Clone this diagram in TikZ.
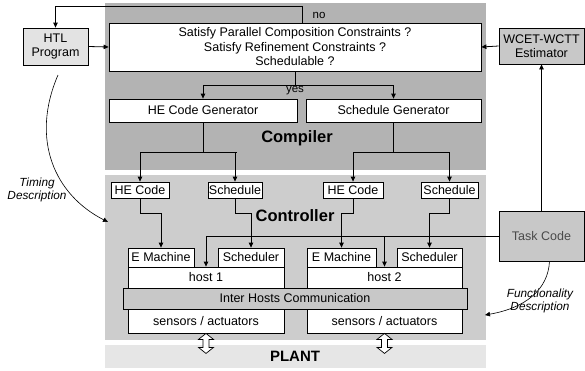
\documentclass[tikz,border=0pt]{standalone}
\usepackage{fontspec}
\setmainfont{Liberation Sans}
\usetikzlibrary{arrows.meta,calc}
\definecolor{compgray}{HTML}{B3B3B3}
\definecolor{ctrlgray}{HTML}{CDCDCD}
\definecolor{plantgray}{HTML}{E6E6E6}
\definecolor{boxgray}{HTML}{C8C8C8}
\definecolor{htlgray}{HTML}{E3E3E3}
\definecolor{taskgray}{HTML}{4A4A4A}
\begin{document}
\begin{tikzpicture}[x=1pt,y=-1pt,
  box/.style={draw=black, line width=0.8pt, fill=white, inner sep=0pt,
    align=center, font=\fontsize{12.5}{14.5}\selectfont},
  graybox/.style={box, fill=boxgray},
  arr/.style={-{Triangle[length=5pt,width=4.5pt]}, line width=0.8pt},
  ln/.style={line width=0.8pt},
  title/.style={font=\fontsize{16.5}{18}\selectfont\bfseries},
  note/.style={font=\fontsize{11.8}{13}\selectfont\itshape, align=center},
  small/.style={font=\fontsize{11.5}{12}\selectfont},
  dblarrow/.style={draw=black, line width=0.7pt, fill=white}]
\useasboundingbox (0,0) rectangle (585,370);

% layers
\fill[compgray] (105,3) rectangle (486,170);
\fill[ctrlgray] (105,175) rectangle (486,340);
\fill[plantgray] (105,345) rectangle (486,368);

% compiler
\node[box, fill=htlgray, minimum width=65pt, minimum height=37pt] (HTL) at (55.5,46.5) {HTL\\Program};
\node[box, minimum width=372pt, minimum height=48pt] (C) at (295,47)
  {Satisfy Parallel Composition Constraints ?\\Satisfy Refinement Constraints ?\\Schedulable ?};
\node[graybox, minimum width=85pt, minimum height=36pt] (W) at (541.5,46) {WCET-WCTT\\Estimator};
\node[box, minimum width=188pt, minimum height=23pt] (HEG) at (203,110.5) {HE Code Generator};
\node[box, minimum width=175pt, minimum height=23pt] (SG) at (393.5,110.5) {Schedule Generator};
\node[title] (comp) at (297,138) {Compiler};

% controller
\node[box, minimum width=58pt, minimum height=16pt] (HE1) at (140,190) {HE Code};
\node[box, minimum width=54pt, minimum height=16pt] (S1) at (235,190) {Schedule};
\node[box, minimum width=60pt, minimum height=16pt] (HE2) at (353,190) {HE Code};
\node[box, minimum width=57pt, minimum height=16pt] (S2) at (449.5,190) {Schedule};
\node[title] (ctrl) at (295,216) {Controller};

\node[box, minimum width=156pt, minimum height=21pt] (H1) at (206,277.5) {host 1};
\node[box, minimum width=156pt, minimum height=24pt] (SA1) at (206,321) {sensors / actuators};
\node[box, minimum width=66pt, minimum height=19pt] (EM1) at (161,257.5) {E Machine};
\node[box, minimum width=66pt, minimum height=19pt] (SC1) at (251,257.5) {Scheduler};

\node[box, minimum width=155pt, minimum height=21pt] (H2) at (384.5,277.5) {host 2};
\node[box, minimum width=155pt, minimum height=24pt] (SA2) at (384.5,321) {sensors / actuators};
\node[box, minimum width=69pt, minimum height=19pt] (EM2) at (341.5,257.5) {E Machine};
\node[box, minimum width=65pt, minimum height=19pt] (SC2) at (429.5,257.5) {Scheduler};

\node[graybox, minimum width=344pt, minimum height=21pt] (IHC) at (295,298.5) {Inter Hosts Communication};

\node[graybox, minimum width=85pt, minimum height=50pt, text=taskgray] (T) at (541.5,236) {Task Code};

% plant
\node[font=\fontsize{15}{16}\selectfont\bfseries] (plant) at (295,356) {PLANT};

% compiler connectors
\draw[arr] (HTL.east) -- (C.west);
\draw[arr] (W.west) -- (C.east);
\draw[arr] ($(C.north)+(7,0)$) -- ++(0,-16) -| (HTL.north);
\node[small] (no) at (319,15) {no};
\draw[ln] (C.south) -- ++(0,14) coordinate (yesj);
\draw[ln] (yesj -| HEG.north) -- (yesj -| SG.north);
\draw[arr] (yesj -| HEG.north) -- (HEG.north);
\draw[arr] (yesj -| SG.north) -- (SG.north);
\node[small] (yes) at (295,91) {yes};

\draw[ln] (HEG.south) -- ++(0,30) coordinate (hej);
\draw[ln] (hej -| HE1.north) -- ($(hej -| S1.north)+(2,0)$);
\draw[arr] (hej -| HE1.north) -- (HE1.north);
\draw[arr] (hej -| S1.north) -- (S1.north);
\draw[ln] (SG.south) -- ++(0,30) coordinate (sgj);
\draw[ln] (sgj -| HE2.north) -- (sgj -| S2.north);
\draw[arr] (sgj -| HE2.north) -- (HE2.north);
\draw[arr] (sgj -| S2.north) -- (S2.north);

% controller connectors
\draw[arr] (HE1.south) -- ++(0,15) -| (EM1.north);
\draw[arr] (S1.south) -- ++(0,15) -| (SC1.north);
\draw[arr] (HE2.south) -- ++(0,15) -| (EM2.north);
\draw[arr] (S2.south) -- ++(0,15) -| (SC2.north);
\draw[arr] (T.west) -| (H1.north);
\draw[arr] (H2.north |- T.west) -- (H2.north);
\draw[arr] (T.north) -- (W.south);

% descriptions
\coordinate (tstart) at (58,75);
\draw[arr, line width=0.6pt] (tstart) .. controls (30,140) and (55,195) .. (108,222);
\node[note] (tdesc) at (37,190) {Timing\\Description};
\draw[arr, line width=0.6pt] ($(T.south)+(8,0)$) .. controls (548,290) and (525,308) .. (485,315);
\node[note] (fdesc) at (540,301) {Functionality\\Description};

% links to the plant
\foreach \s in {SA1,SA2}{
  \draw[dblarrow] ($(\s.south)+(0,0)$) -- ++(-7.5,6) -- ++(4.5,0) -- ++(0,8)
    -- ++(-4.5,0) -- ++(7.5,6) -- ++(7.5,-6) -- ++(-4.5,0) -- ++(0,-8)
    -- ++(4.5,0) -- cycle;
}
\end{tikzpicture}
\end{document}
